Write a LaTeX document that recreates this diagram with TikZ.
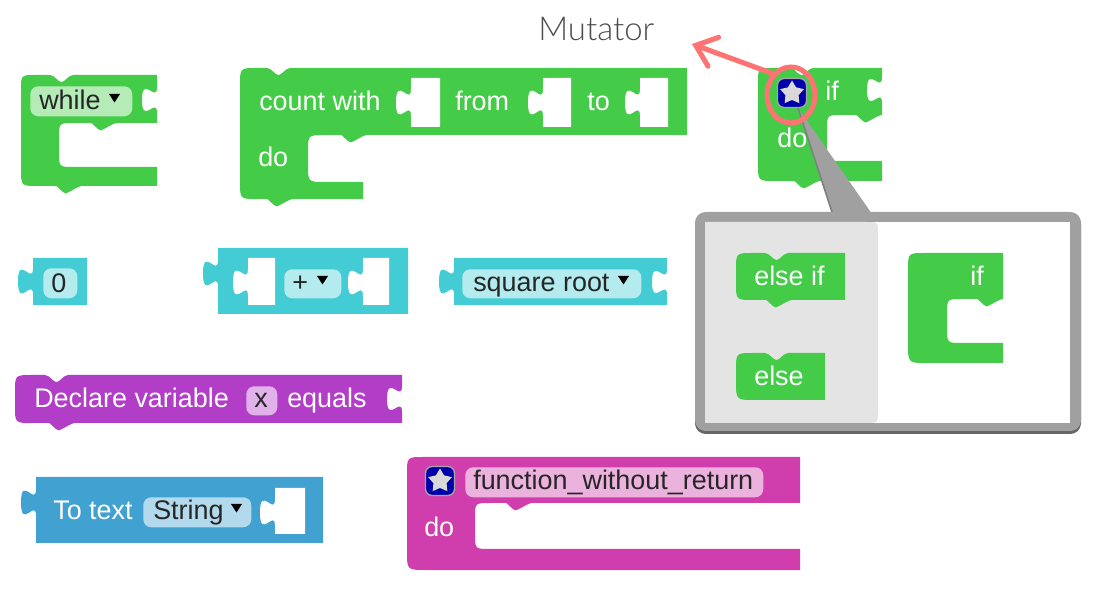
\documentclass[tikz,border=0pt]{standalone}
\usepackage{fontspec}
\setmainfont{Liberation Sans}
\newfontfamily\notefont{Lato Light}
\usetikzlibrary{shapes.geometric,arrows.meta}
\definecolor{blockgreen}{RGB}{68,204,72}
\definecolor{blockteal}{RGB}{68,204,212}
\definecolor{blockpurple}{RGB}{178,62,200}
\definecolor{blockblue}{RGB}{65,161,208}
\definecolor{blockpink}{RGB}{207,62,172}
\definecolor{ringred}{RGB}{255,115,115}
\definecolor{btnblue}{RGB}{0,0,170}
\definecolor{panelgrey}{RGB}{160,160,160}
\definecolor{flyoutgrey}{RGB}{228,228,228}
% pieces of block outlines
\newcommand{\topnotch}{.. controls +(3,0) and +(-5,-4) .. ++(9,6) .. controls +(2,1.5) and +(-2,1.5) .. ++(5,0) .. controls +(5,-4) and +(-3,0) .. ++(9,-6)}
\newcommand{\hangnotch}{.. controls +(-3,0) and +(4,-2) .. ++(-13,6) .. controls +(-3,1.5) and +(3,2) .. ++(-6,0) .. controls +(-2,-1.5) and +(1,0) .. ++(-7,-6)}
\newcommand{\sockettab}{.. controls +(0,17) and +(0,-26) .. ++(-15,13) .. controls +(0,26) and +(0,-17) .. ++(15,13)}
\newcommand{\plugtab}{.. controls +(0,-18) and +(0,28) .. ++(-15,-13.5) .. controls +(0,-28) and +(0,18) .. ++(15,-13.5)}
\newcommand{\inputslot}[4]{\fill[white] (#1,#2) -- ++(#3,0) -- ++(0,#4) -- ++(-#3,0) -- (#1,#2+38) \plugtab -- cycle;}
\newcommand{\dropmark}[2]{\fill[black] (#1,#2) -- ++(11,0) -- ++(-5.5,8.5) -- cycle;}
\tikzset{
  fieldbox/.style={rounded corners=6,inner sep=0pt,anchor=north west},
  wordlight/.style={text=white,inner sep=0pt,anchor=base west,yshift=-0.75pt,font=\fontsize{20.2}{24}\selectfont},
  worddark/.style={text=black!85,inner sep=0pt,anchor=base west,yshift=-0.75pt,font=\fontsize{20.2}{24}\selectfont},
  mutbtn/.style={fill=btnblue,draw=gray!70,line width=1pt,rounded corners=5,minimum width=29*.75,minimum height=29*.75,inner sep=0pt},
  mutstar/.style={star,star points=5,star point ratio=1.8,fill=black!15,minimum size=25*.75,inner sep=0pt},
}
\begin{document}
\begin{tikzpicture}[x=0.75pt,y=0.75pt,yscale=-1,xscale=1]
\useasboundingbox (0,0) rectangle (1103,605);

%while block
\fill[blockgreen] (21,90) .. controls (21,75) .. (36,75) -- (50,75) \topnotch -- (157,75) -- (157,87) \sockettab -- (157,123) -- (117,123) \hangnotch -- (74,123) .. controls (59,123) .. (59,138) -- (59,152) .. controls (59,167) .. (74,167) -- (157,167) -- (157,186) -- (82,186) \hangnotch -- (38,186) .. controls (21,186) .. (21,169) -- cycle;
\node[fieldbox,fill=blockgreen!40!white,minimum width=102*.75,minimum height=30*.75] (whilefield) at (30,86) {};
\node[worddark] (whiletext) at (39,109) {while};
\dropmark{109}{94}

%count with block
\fill[blockgreen] (240,85) .. controls (240,68) .. (257,68) -- (267,68) \topnotch -- (687,68) -- (687,135) -- (367,135) \hangnotch -- (325,135) .. controls (308,135) .. (308,152) -- (308,165) .. controls (308,182) .. (325,182) -- (363,182) -- (363,199) -- (293,199) \hangnotch -- (257,199) .. controls (240,199) .. (240,182) -- cycle;
\inputslot{411}{78}{29}{49}
\inputslot{543}{78}{28}{49}
\inputslot{640}{78}{28}{49}
\node[wordlight] (countword) at (259,110) {count with};
\node[wordlight] (fromword) at (455,110) {from};
\node[wordlight] (toword) at (587,110) {to};
\node[wordlight] (countdo) at (258,166) {do};

%if block
\fill[blockgreen] (758,83) .. controls (758,68) .. (773,68) -- (790,68) \topnotch -- (882,68) -- (882,77) \sockettab -- (882,115) \hangnotch -- (842,115) .. controls (827,115) .. (827,130) -- (827,146) .. controls (827,161) .. (842,161) -- (882,161) -- (882,181) -- (820,181) \hangnotch -- (775,181) .. controls (758,181) .. (758,164) -- cycle;
\node[wordlight] (ifword) at (825,100) {if};
\node[wordlight] (ifdo) at (777,147) {do};
\node[mutbtn] (ifbtn) at (792,93) {};
\node[mutstar] (ifstar) at (792,93) {};

%pointer and mutator panel
\fill[panelgrey] (798,108) -- (872,214) -- (832,214) -- cycle;
\draw[gray,line width=1.2pt] (798,108) -- (832,212);
\fill[black!60,rounded corners=8] (695,214) rectangle (1081,434);
\fill[panelgrey,rounded corners=8] (695,212) rectangle (1081,431);
\fill[white] (705,222) rectangle (1070,423);
\fill[flyoutgrey] (705,222) -- (866,222) .. controls (878,222) .. (878,234) -- (878,411) .. controls (878,423) .. (866,423) -- (705,423) -- cycle;

%else if block
\fill[blockgreen] (736,270) .. controls (736,253) .. (753,253) -- (765,253) \topnotch -- (845,253) -- (845,300) -- (792,300) \hangnotch -- (753,300) .. controls (736,300) .. (736,283) -- cycle;
\node[wordlight] (elseifword) at (754,285) {else if};

%else block
\fill[blockgreen] (736,370) .. controls (736,353) .. (753,353) -- (765,353) \topnotch -- (825,353) -- (825,400) -- (755,400) .. controls (736,400) .. (736,381) -- cycle;
\node[wordlight] (elseword) at (754,385) {else};

%if block in panel
\fill[blockgreen] (908,270) .. controls (908,253) .. (925,253) -- (1003,253) -- (1003,299) \hangnotch -- (962,299) .. controls (947,299) .. (947,314) -- (947,328) .. controls (947,343) .. (962,343) -- (1003,343) -- (1003,363) -- (927,363) .. controls (908,363) .. (908,344) -- cycle;
\node[wordlight] (panelif) at (970,285) {if};

%ring and arrow
\node[draw=ringred,line width=3.8pt,ellipse,minimum width=48*.75,minimum height=56*.75,inner sep=0pt] (mutring) at (791,95) {};
\coordinate (mutatortip) at (692,44);
\draw[ringred,line width=3.8pt,line cap=round,-{Straight Barb[length=14,width=23,line cap=round]}] (mutring.north west) -- (mutatortip);
\node[inner sep=0pt,anchor=base west,text=black!70,font=\notefont\fontsize{24.7}{30}\selectfont] (mutatorword) at (538,41) {Mutator};

%zero block
\fill[blockteal] (33,258) -- (87,258) -- (87,305) -- (33,305) -- (33,295) \plugtab -- cycle;
\node[fieldbox,fill=blockteal!40!white,minimum width=34*.75,minimum height=30*.75] (zerofield) at (43,268) {};
\node[worddark] (zerotext) at (51,292) {0};

%plus block
\fill[blockteal] (218,248) -- (408,248) -- (408,314) -- (218,314) -- (218,287) \plugtab -- cycle;
\inputslot{248}{258}{27}{47}
\inputslot{363}{258}{26}{47}
\node[fieldbox,fill=blockteal!40!white,minimum width=57*.75,minimum height=29*.75] (plusfield) at (284,269) {};
\node[worddark] (plustext) at (292,291) {+};
\dropmark{317}{276}

%square root block
\fill[blockteal] (454,258) -- (667,258) -- (667,269) \sockettab -- (667,305) -- (454,305) -- (454,295) \plugtab -- cycle;
\node[fieldbox,fill=blockteal!40!white,minimum width=179*.75,minimum height=29*.75] (rootfield) at (462,269) {};
\node[worddark] (roottext) at (473,291) {square root};
\dropmark{618}{276}

%declare block
\fill[blockpurple] (15,392) .. controls (15,375) .. (32,375) -- (45,375) \topnotch -- (402,375) -- (402,386) \sockettab -- (402,423) -- (75,423) \hangnotch -- (32,423) .. controls (15,423) .. (15,406) -- cycle;
\node[wordlight] (declareword) at (34,407) {Declare variable};
\node[fieldbox,fill=blockpurple!40!white,minimum width=31*.75,minimum height=29*.75] (varfield) at (246,386) {};
\node[worddark] (vartext) at (254,407) {x};
\node[wordlight] (equalsword) at (287,407) {equals};

%to text block
\fill[blockblue] (36,477) -- (323,477) -- (323,543) -- (36,543) -- (36,516) \plugtab -- cycle;
\inputslot{275}{488}{30}{46}
\node[wordlight] (totextword) at (53,519) {To text};
\node[fieldbox,fill=blockblue!40!white,minimum width=108*.75,minimum height=30*.75] (stringfield) at (143,497) {};
\node[worddark] (stringtext) at (153,519) {String};
\dropmark{231}{504}

%function block
\fill[blockpink] (407,474) .. controls (407,457) .. (424,457) -- (800,457) -- (800,503) -- (532,503) \hangnotch -- (490,503) .. controls (475,503) .. (475,518) -- (475,534) .. controls (475,549) .. (490,549) -- (800,549) -- (800,570) -- (426,570) .. controls (407,570) .. (407,551) -- cycle;
\node[mutbtn] (funcbtn) at (440,481) {};
\node[mutstar] (funcstar) at (440,481) {};
\node[fieldbox,fill=blockpink!40!white,minimum width=298*.75,minimum height=30*.75] (funcfield) at (465,467) {};
\node[worddark] (functext) at (473,489) {function\_without\_return};
\node[wordlight] (funcdo) at (424,536) {do};
\end{tikzpicture}
\end{document}
